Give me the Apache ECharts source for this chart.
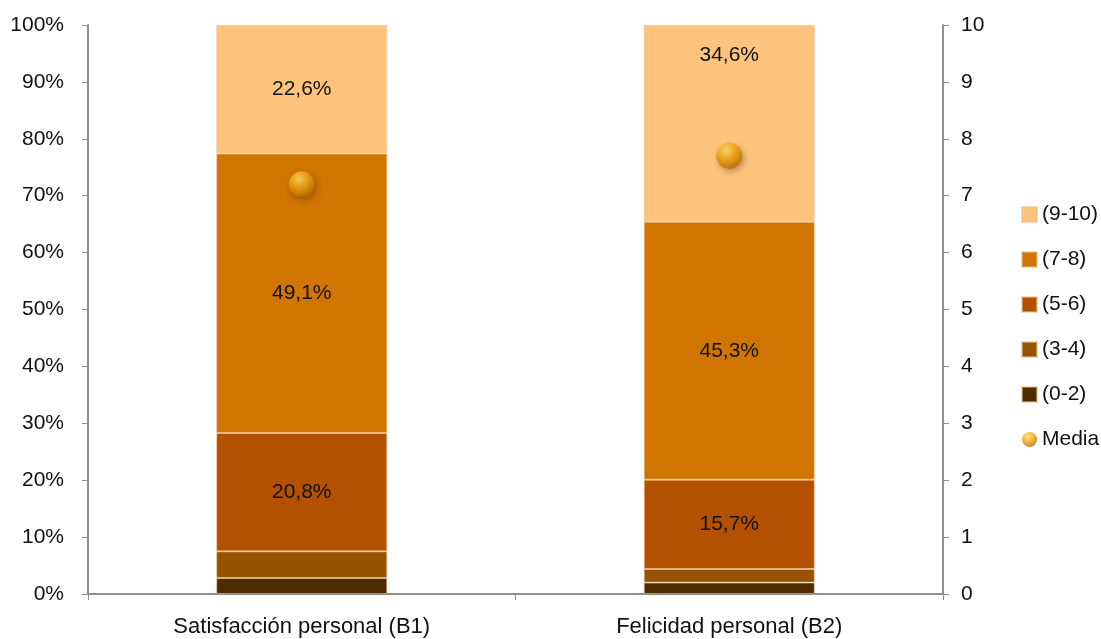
<!DOCTYPE html>
<html>
<head>
<meta charset="utf-8">
<script src="https://cdn.jsdelivr.net/npm/echarts@6/dist/echarts.min.js"></script>
<style>
  html, body { margin: 0; padding: 0; background: #fff; }
  #main { width: 1101px; height: 639px; }
</style>
</head>
<body>
<div id="main"></div>
<script>
var categories = ['Satisfacción personal (B1)', 'Felicidad personal (B2)'];
var r02 = [2.8, 2.0];
var r34 = [4.7, 2.4];
var r56 = [20.8, 15.7];
var r78 = [49.1, 45.3];
var r910 = [22.6, 34.6];
var media = [7.2, 7.7];

var font = '"Liberation Sans", Arial, sans-serif';
var fs = 21;
var axisGrey = '#8e8e8e';

function pct(v) { return v.toFixed(1).replace('.', ',') + '%'; }

function barSeries(name, data, color) {
    return {
        name: name,
        type: 'bar',
        stack: 'total',
        barWidth: '40%',
        itemStyle: { color: color, borderColor: 'rgba(240,190,130,0.55)', borderWidth: 1 },
        label: {
            show: true,
            fontFamily: font,
            fontSize: fs,
            color: '#111',
            formatter: function (p) { return p.value > 10 ? pct(p.value) : ''; }
        },
        data: data
    };
}

var myChart = echarts.init(document.getElementById('main'));
var option = {
    animation: false,
    grid: { left: 88, right: 158, top: 25, bottom: 45 },
    legend: {
        orient: 'vertical',
        left: 1016,
        top: 199,
        itemWidth: 15,
        itemHeight: 15,
        itemGap: 24,
        textStyle: { fontFamily: font, fontSize: fs, color: '#111' },
        data: [
            { name: '(9-10)', icon: 'rect' },
            { name: '(7-8)', icon: 'rect' },
            { name: '(5-6)', icon: 'rect' },
            { name: '(3-4)', icon: 'rect' },
            { name: '(0-2)', icon: 'rect' },
            { name: 'Media', icon: 'circle' }
        ]
    },
    xAxis: {
        type: 'category',
        data: categories,
        axisLine: { lineStyle: { color: axisGrey, width: 2 } },
        axisTick: { show: true, length: 6, lineStyle: { color: axisGrey, width: 1 } },
        axisLabel: { fontFamily: font, fontSize: 22, color: '#111', margin: 22 }
    },
    yAxis: [{
        type: 'value',
        min: 0,
        max: 100,
        interval: 10,
        splitLine: { show: false },
        axisLine: { show: true, lineStyle: { color: axisGrey, width: 2 } },
        axisTick: { show: true, length: 6, lineStyle: { color: axisGrey, width: 1 } },
        axisLabel: { fontFamily: font, fontSize: fs, color: '#111', margin: 24, formatter: '{value}%' }
    }, {
        type: 'value',
        min: 0,
        max: 10,
        interval: 1,
        position: 'right',
        splitLine: { show: false },
        axisLine: { show: true, lineStyle: { color: axisGrey, width: 2 } },
        axisTick: { show: true, length: 6, lineStyle: { color: axisGrey, width: 1 } },
        axisLabel: { fontFamily: font, fontSize: fs, color: '#111', margin: 18 }
    }],
    series: [
        barSeries('(0-2)', r02, '#4e2c00'),
        barSeries('(3-4)', r34, '#955300'),
        barSeries('(5-6)', r56, '#b45100'),
        barSeries('(7-8)', r78, '#d07402'),
        barSeries('(9-10)', r910.map(function (v, i) {
            return i === 1 ? { value: v, label: { offset: [0, -68] } } : v;
        }), '#fec47e'),
        {
            name: 'Media',
            type: 'scatter',
            yAxisIndex: 1,
            symbol: 'circle',
            symbolSize: 26,
            z: 5,
            itemStyle: {
                color: {
                    type: 'radial', x: 0.4, y: 0.3, r: 0.7,
                    colorStops: [
                        { offset: 0, color: '#ffdf7a' },
                        { offset: 0.5, color: '#f5a40c' },
                        { offset: 1, color: '#b86e00' }
                    ]
                },
                shadowColor: 'rgba(80,40,0,0.45)',
                shadowBlur: 6,
                shadowOffsetX: 2,
                shadowOffsetY: 3
            },
            data: media
        }
    ]
};
myChart.setOption(option);
</script>
</body>
</html>
